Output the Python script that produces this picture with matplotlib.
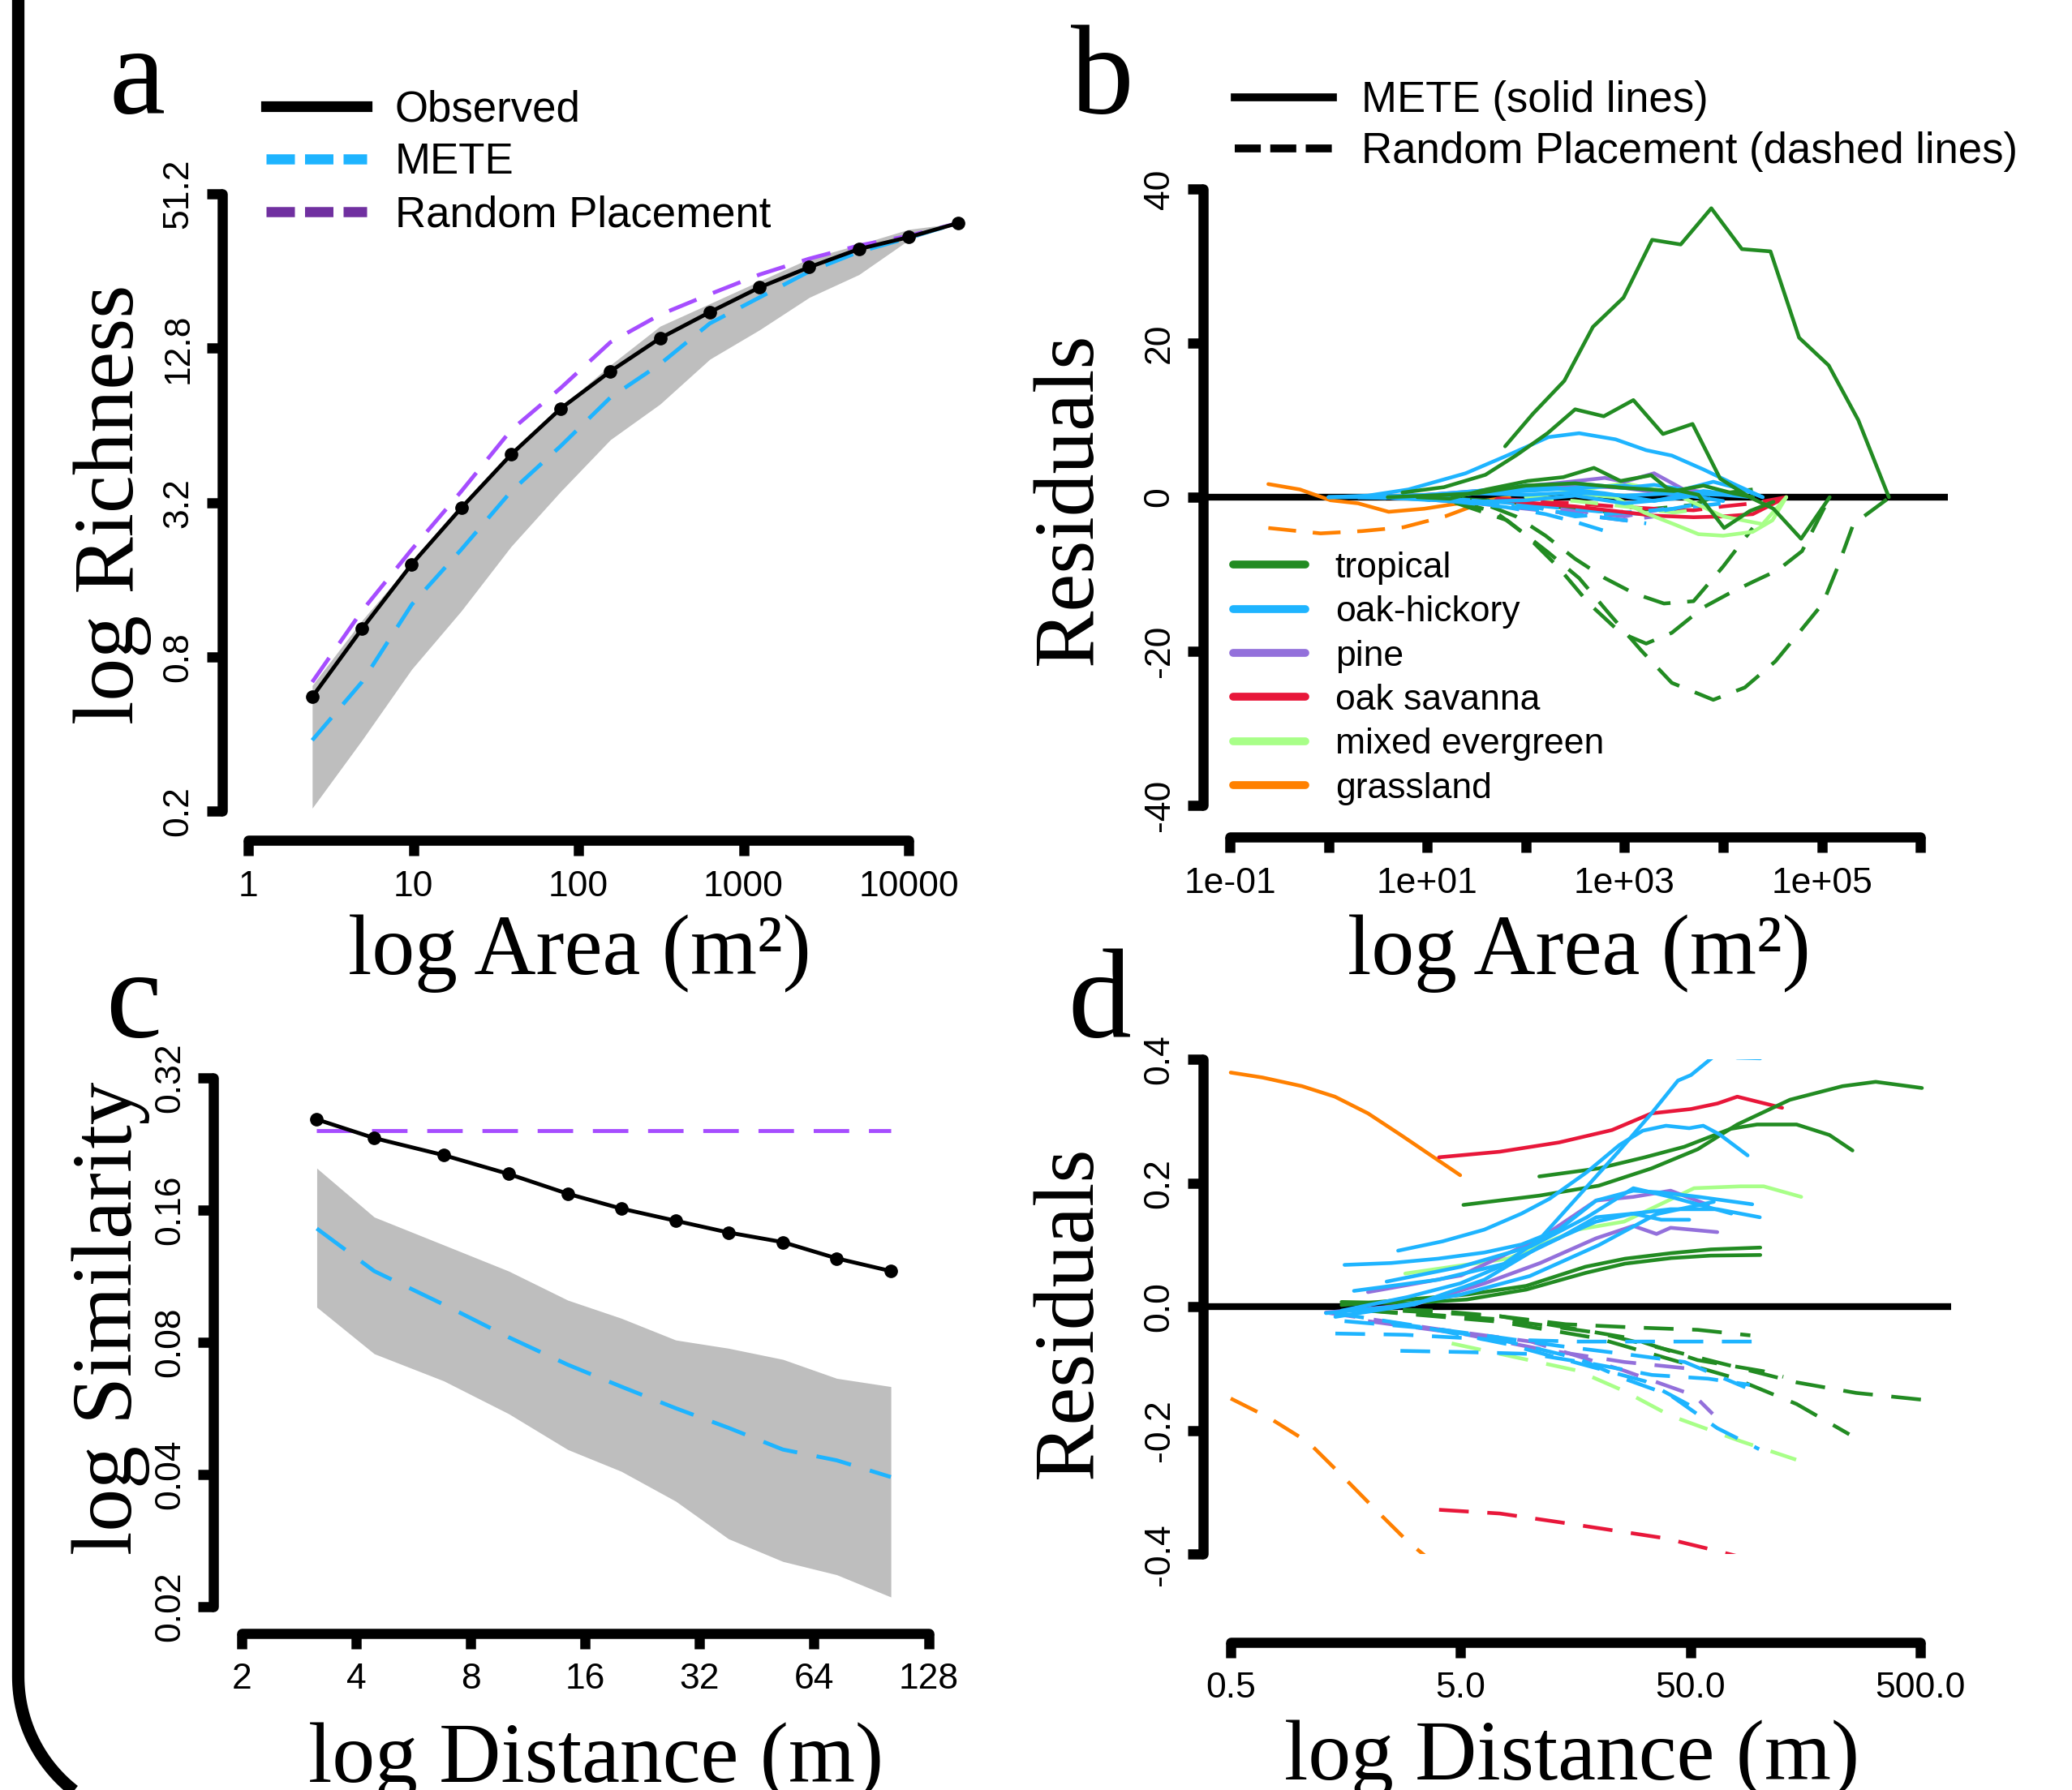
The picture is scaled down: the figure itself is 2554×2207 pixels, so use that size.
import numpy as np
import matplotlib
matplotlib.use('Agg')
import matplotlib.pyplot as plt
from matplotlib.lines import Line2D
from matplotlib.ticker import NullLocator

W, H = 2554, 2207
SANS = 'Liberation Sans'
SERIF = 'Liberation Serif'
plt.rcParams['font.family'] = SANS
plt.rcParams['axes.unicode_minus'] = False

C_METE = '#1EB4FF'
C_RP = '#A64DFF'
C_RP_LEG = '#7030A0'
C_BAND = '#BEBEBE'
C_TROP = '#228B22'
C_OAKH = '#1EB4FF'
C_PINE = '#9370DB'
C_SAV = '#E8173A'
C_MIX = '#A8FF88'
C_GRASS = '#FF8000'

# ---- panel a: species-area ----
a_area = [2.44, 4.88, 9.77, 19.5, 39.1, 78.1, 156, 312, 625, 1250, 2500, 5000, 10000, 20000]
a_obs = [0.559, 1.03, 1.84, 3.05, 4.93, 7.45, 10.4, 14.0, 17.7, 22.1, 26.5, 31.2, 34.7, 39.4]
a_mete = [0.379, 0.639, 1.28, 2.10, 3.54, 5.32, 8.22, 11.1, 16.0, 20.2, 25.5, 30.4, 34.5, 39.4]
a_rp = [0.639, 1.21, 2.10, 3.54, 6.14, 8.96, 13.5, 17.3, 20.8, 24.8, 28.6, 32.2, 35.1, 39.4]
a_band_lo = [0.206, 0.379, 0.717, 1.21, 2.16, 3.54, 5.63, 7.75, 11.6, 15.1, 20.2, 24.8, 33.8, 39.4]
a_band_hi = [0.62, 1.11, 1.87, 3.15, 5.02, 7.53, 11.0, 15.6, 19.1, 23.4, 28.6, 32.5, 37.2, 39.4]

# ---- panel c: distance decay ----
c_dist = [3.15, 4.46, 6.8, 10.07, 14.4, 19.9, 27.7, 38.1, 53.0, 73.4, 101.9]
c_obs = [0.257, 0.233, 0.213, 0.193, 0.174, 0.161, 0.151, 0.142, 0.135, 0.124, 0.116]
c_mete = [0.145, 0.116, 0.0973, 0.082, 0.071, 0.0633, 0.0565, 0.051, 0.0455, 0.043, 0.0394]
c_rp = [0.242, 0.242, 0.242, 0.242, 0.242, 0.242, 0.242, 0.242, 0.242, 0.242, 0.242]
c_band_hi = [0.199, 0.154, 0.133, 0.116, 0.0996, 0.0906, 0.0808, 0.0774, 0.073, 0.0661, 0.0633]
c_band_lo = [0.096, 0.0752, 0.0652, 0.0549, 0.0455, 0.0406, 0.0347, 0.0285, 0.0253, 0.0236, 0.021]

# ---- panel b: SAR residuals, (log10 area, residual) per site ----
b_trop_solid = [
    ([1.79, 2.07, 2.39, 2.68, 2.99, 3.28, 3.57, 3.88, 4.19, 4.48, 4.77, 5.07, 5.37, 5.68],
     [6.6, 10.8, 15.1, 22.1, 25.9, 33.4, 32.8, 37.5, 32.2, 31.9, 20.7, 17.1, 10.0, 0.0]),
    ([0.75, 1.17, 1.59, 1.91, 2.22, 2.50, 2.79, 3.09, 3.39, 3.69, 3.97, 4.27, 4.51, 4.79, 5.08],
     [0.6, 1.3, 2.9, 5.5, 8.3, 11.4, 10.5, 12.6, 8.2, 9.5, 2.4, 0.0, -1.5, -5.4, 0.0]),
    ([0.9, 1.23, 1.6, 2.02, 2.38, 2.69, 2.96, 3.27, 3.43, 3.75, 4.01, 4.27, 4.51],
     [0.0, -0.2, 1.0, 2.1, 2.6, 3.8, 2.1, 2.85, 1.2, 0.3, -4.0, -1.8, -0.6]),
    ([0.6, 1.0, 1.5, 2.0, 2.5, 3.0, 3.5, 3.8, 4.1, 4.3],
     [0.0, 0.2, 0.5, 1.5, 1.8, 1.2, 0.8, 1.5, 0.5, 0.0]),
]
b_trop_dash = [
    ([1.28, 1.81, 2.23, 2.54, 2.85, 3.17, 3.48, 3.90, 4.22, 4.53, 4.80, 5.01, 5.16, 5.32, 5.69],
     [-0.7, -3.0, -7.2, -10.5, -15.2, -19.9, -24.1, -26.3, -24.7, -21.3, -17.1, -13.8, -9.1, -3.5, 0.0]),
    ([1.3, 1.7, 2.0, 2.33, 2.64, 2.96, 3.22, 3.48, 3.8, 4.06, 4.3, 4.55, 4.8, 5.08],
     [-0.5, -2.0, -4.9, -9.1, -13.8, -17.6, -19.0, -17.6, -14.3, -12.5, -11.0, -9.5, -7.0, 0.0]),
    ([1.2, 1.6, 1.9, 2.2, 2.5, 2.8, 3.1, 3.4, 3.7, 4.0, 4.3],
     [-0.3, -1.0, -2.5, -5.0, -8.0, -10.5, -12.5, -13.8, -13.5, -9.0, -4.0]),
    ([0.9, 1.3, 1.7, 2.1, 2.5, 2.9, 3.3, 3.7, 4.0, 4.3],
     [0.0, -0.2, -0.5, -1.0, -1.5, -2.0, -1.5, -1.0, 0.5, 1.0]),
]
b_oakh_solid = [
    ([0.0, 0.4, 0.81, 1.39, 1.81, 2.23, 2.54, 2.91, 3.22, 3.48, 3.80, 4.11, 4.40],
     [0.0, 0.2, 1.0, 3.1, 5.4, 7.8, 8.3, 7.5, 6.1, 5.4, 3.6, 1.7, 0.0]),
    ([0.0, 0.5, 1.0, 1.5, 2.0, 2.5, 3.0, 3.3, 3.6, 3.9, 4.2, 4.4],
     [0.0, 0.1, 0.3, 0.8, 1.5, 1.8, 1.2, 1.6, 1.0, 2.0, 1.0, 0.0]),
    ([0.0, 0.5, 1.0, 1.5, 2.0, 2.5, 3.0, 3.5, 4.0, 4.3],
     [0.0, 0.0, 0.2, 0.5, 0.3, 0.6, 0.2, 0.5, 0.3, 0.0]),
    ([0.3, 0.8, 1.3, 1.8, 2.3, 2.8, 3.3, 3.8, 4.2],
     [0.0, -0.1, 0.2, 1.0, 1.2, 0.5, -0.5, 0.8, 0.2]),
    ([0.5, 1.0, 1.5, 2.0, 2.5, 3.0, 3.5, 3.9],
     [0.0, -0.3, -0.6, -0.4, 0.2, -0.8, -0.2, 0.6]),
    ([1.0, 1.5, 2.0, 2.5, 3.0, 3.5, 4.0],
     [0.0, 0.5, 0.8, 1.2, 1.5, 0.5, -0.5]),
]
b_oakh_dash = [
    ([0.3, 0.8, 1.3, 1.8, 2.2, 2.5, 2.78], [0.0, -0.2, -0.6, -1.3, -2.2, -3.2, -4.3]),
    ([0.5, 1.0, 1.5, 2.0, 2.5, 3.0, 3.22], [0.0, -0.3, -0.8, -1.4, -2.2, -3.0, -3.4]),
    ([0.7, 1.2, 1.7, 2.2, 2.7, 3.2, 3.7], [0.0, -0.2, -0.6, -1.2, -1.8, -2.2, -1.0]),
    ([1.0, 1.5, 2.0, 2.5, 3.0, 3.5, 4.0], [0.0, -0.5, -1.0, -2.5, -2.0, -1.5, -0.8]),
]
b_pine_solid = [
    ([0.3, 0.8, 1.3, 1.8, 2.3, 2.8, 3.0, 3.3, 3.6, 3.9], [0.0, 0.2, 0.5, 1.2, 1.8, 2.5, 2.0, 3.1, 1.0, 0.5]),
    ([0.5, 1.0, 1.5, 2.0, 2.5, 3.0, 3.5], [0.0, 0.3, 0.8, 1.0, 1.5, 1.2, 0.3]),
]
b_pine_dash = [
    ([0.5, 1.0, 1.5, 2.0, 2.5, 3.0, 3.3], [0.0, -0.3, -0.8, -1.5, -2.2, -3.0, -2.5]),
    ([1.0, 1.5, 2.0, 2.5, 3.0, 3.4], [0.0, -0.5, -1.0, -1.8, -2.5, -1.5]),
]
b_sav_solid = [([1.7, 2.1, 2.5, 2.9, 3.3, 3.7, 4.0, 4.3, 4.64], [-0.3, -0.8, -1.2, -1.8, -2.4, -2.6, -2.5, -2.2, 0.0])]
b_sav_dash = [([1.7, 2.1, 2.5, 2.9, 3.3, 3.7, 4.0, 4.3, 4.64], [-0.2, -0.5, -0.8, -1.2, -1.5, -1.7, -1.2, -0.8, 0.0])]
b_mix_solid = [
    ([2.5, 2.9, 3.2, 3.5, 3.75, 4.0, 4.3, 4.5, 4.64], [0.5, 0.0, -2.0, -3.5, -4.8, -5.0, -4.5, -3.0, 0.0]),
    ([2.0, 2.5, 3.0, 3.5, 4.0, 4.4, 4.64], [0.0, 0.8, 1.8, 0.5, -2.5, -3.5, 0.0]),
]
b_mix_dash = [([2.0, 2.5, 3.0, 3.5, 3.8], [0.0, -0.5, -1.2, -2.0, -1.5])]
b_grass_solid = [([-0.61, -0.29, 0.02, 0.30, 0.61, 0.97, 1.27, 1.55, 1.79], [1.7, 1.0, -0.4, -0.8, -1.9, -1.5, -0.9, -0.5, -0.1])]
b_grass_dash = [([-0.61, -0.08, 0.34, 0.76, 1.18, 1.60, 1.85], [-4.0, -4.7, -4.4, -3.9, -2.5, -0.5, 0.0])]

# ---- panel d: distance-decay residuals, (log10 distance, residual) ----
d_grass_solid = [([-0.301, -0.163, 0.009, 0.152, 0.296, 0.439, 0.582, 0.697], [0.379, 0.371, 0.357, 0.340, 0.313, 0.278, 0.242, 0.213])]
d_grass_dash = [([-0.301, -0.135, 0.037, 0.181, 0.324, 0.468, 0.582, 0.683], [-0.148, -0.179, -0.219, -0.272, -0.326, -0.379, -0.414, -0.441])]
d_sav_solid = [([0.605, 0.869, 1.127, 1.357, 1.529, 1.701, 1.816, 1.902, 2.097], [0.242, 0.251, 0.266, 0.286, 0.313, 0.320, 0.329, 0.340, 0.322])]
d_sav_dash = [([0.605, 0.869, 1.127, 1.357, 1.587, 1.787, 2.017, 2.097], [-0.328, -0.334, -0.348, -0.361, -0.374, -0.392, -0.414, -0.423])]
d_trop_solid = [
    ([1.041, 1.299, 1.5, 1.672, 1.873, 1.988, 2.16, 2.303, 2.403], [0.211, 0.224, 0.242, 0.259, 0.288, 0.295, 0.295, 0.278, 0.253]),
    ([0.711, 1.041, 1.299, 1.529, 1.73, 1.902, 2.131, 2.36, 2.504, 2.705], [0.165, 0.180, 0.196, 0.224, 0.255, 0.295, 0.335, 0.357, 0.364, 0.354]),
    ([0.181, 0.468, 0.726, 0.984, 1.242, 1.414, 1.615, 1.787, 2.002], [0.003, 0.012, 0.020, 0.034, 0.065, 0.078, 0.087, 0.093, 0.096]),
    ([0.181, 0.468, 0.726, 0.984, 1.242, 1.414, 1.615, 1.787, 2.002], [0.008, 0.006, 0.012, 0.028, 0.055, 0.070, 0.079, 0.083, 0.084]),
]
d_trop_dash = [
    ([0.238, 0.582, 0.869, 1.156, 1.443, 1.73, 1.959], [-0.002, -0.006, -0.015, -0.028, -0.033, -0.037, -0.046]),
    ([0.296, 0.869, 1.299, 1.586, 1.873, 2.16, 2.418, 2.705], [-0.006, -0.020, -0.042, -0.068, -0.095, -0.122, -0.139, -0.150]),
    ([0.296, 0.869, 1.299, 1.586, 1.873, 2.16, 2.389], [-0.006, -0.024, -0.051, -0.082, -0.113, -0.157, -0.206]),
    ([0.238, 0.869, 1.443, 1.73, 2.016, 2.102], [-0.002, -0.015, -0.051, -0.086, -0.104, -0.113]),
]
d_oakh_solid = [
    ([0.181, 0.468, 0.697, 0.869, 1.041, 1.213, 1.385, 1.529, 1.644, 1.701, 1.816, 1.902, 2.002],
     [-0.006, 0.016, 0.038, 0.065, 0.109, 0.180, 0.251, 0.313, 0.366, 0.375, 0.410, 0.403, 0.402]),
    ([0.427, 0.620, 0.802, 0.964, 1.086, 1.248, 1.39, 1.491, 1.592, 1.693, 1.754, 1.825, 1.947],
     [0.091, 0.106, 0.125, 0.151, 0.175, 0.218, 0.262, 0.285, 0.293, 0.289, 0.293, 0.279, 0.245]),
    ([0.194, 0.397, 0.6, 0.802, 0.964, 1.126, 1.288, 1.45, 1.572, 1.734, 1.967],
     [0.068, 0.071, 0.078, 0.088, 0.101, 0.125, 0.172, 0.188, 0.185, 0.178, 0.166]),
    ([0.235, 0.6, 0.903, 1.126, 1.288, 1.45, 1.612, 1.815, 2.0],
     [0.026, 0.044, 0.071, 0.111, 0.145, 0.151, 0.158, 0.158, 0.145]),
    ([0.154, 0.498, 0.802, 1.045, 1.288, 1.45, 1.572, 1.693],
     [-0.016, 0.004, 0.044, 0.098, 0.138, 0.151, 0.141, 0.141]),
    ([0.377, 0.701, 1.005, 1.248, 1.45, 1.612, 1.876],
     [0.041, 0.065, 0.098, 0.145, 0.192, 0.178, 0.151]),
    ([0.113, 0.4, 0.7, 1.0, 1.3, 1.55, 1.8],
     [-0.010, 0.0, 0.02, 0.05, 0.10, 0.15, 0.17]),
]
d_oakh_dash = [
    ([0.154, 0.457, 0.802, 1.207, 1.612, 2.017], [-0.043, -0.045, -0.052, -0.056, -0.056, -0.056]),
    ([0.437, 0.721, 1.005, 1.288, 1.531, 1.775, 1.957], [-0.071, -0.073, -0.076, -0.093, -0.110, -0.116, -0.126]),
    ([0.194, 0.6, 0.903, 1.207, 1.41, 1.612, 1.815, 1.997], [-0.023, -0.036, -0.056, -0.083, -0.116, -0.143, -0.196, -0.230]),
    ([0.397, 0.802, 1.126, 1.41, 1.673, 1.937], [-0.026, -0.046, -0.063, -0.076, -0.089, -0.130]),
    ([0.15, 0.5, 0.9, 1.2, 1.5, 1.75], [-0.01, -0.03, -0.06, -0.09, -0.12, -0.17]),
]
d_pine_solid = [
    ([0.113, 0.498, 0.802, 1.045, 1.288, 1.45, 1.551, 1.612, 1.815], [-0.009, 0.004, 0.038, 0.071, 0.111, 0.131, 0.118, 0.128, 0.121]),
    ([0.296, 0.701, 1.045, 1.288, 1.45, 1.612, 1.775], [0.024, 0.051, 0.111, 0.172, 0.178, 0.188, 0.165]),
]
d_pine_dash = [
    ([0.113, 0.6, 1.005, 1.41, 1.714, 1.795], [-0.009, -0.036, -0.056, -0.103, -0.143, -0.173]),
    ([0.296, 0.701, 1.045, 1.41, 1.673], [-0.023, -0.043, -0.068, -0.089, -0.099]),
]
d_mix_solid = [([0.458, 0.903, 1.207, 1.41, 1.714, 1.916, 2.017, 2.18], [0.054, 0.078, 0.125, 0.138, 0.192, 0.195, 0.195, 0.178])]
d_mix_dash = [([0.66, 1.207, 1.41, 1.612, 1.916, 2.158], [-0.059, -0.103, -0.136, -0.176, -0.217, -0.247])]

hab_names = ['tropical', 'oak-hickory', 'pine', 'oak savanna', 'mixed evergreen', 'grassland']
hab_colors = [C_TROP, C_OAKH, C_PINE, C_SAV, C_MIX, C_GRASS]


def rect(x0, x1, yt, yb):
    return [x0 / W, 1 - yb / H, (x1 - x0) / W, (yb - yt) / H]


def fx(px):
    return px / W


def fy(py):
    return 1 - py / H


def style(ax, left_off, bottom_off, xb, yb):
    for s in ['top', 'right']:
        ax.spines[s].set_visible(False)
    ax.spines['left'].set_position(('outward', left_off))
    ax.spines['bottom'].set_position(('outward', bottom_off))
    ax.spines['left'].set_bounds(*yb)
    ax.spines['bottom'].set_bounds(*xb)
    for s in ['left', 'bottom']:
        ax.spines[s].set_linewidth(9)
        ax.spines[s].set_capstyle('round')
    ax.tick_params(width=9, length=14, labelsize=32, direction='out')
    ax.tick_params(axis='x', pad=12)
    ax.tick_params(axis='y', pad=10, labelrotation=90)
    for lab in ax.get_yticklabels():
        lab.set_va('center')
    ax.xaxis.set_minor_locator(NullLocator())
    ax.yaxis.set_minor_locator(NullLocator())
    ax.patch.set_visible(False)


def draw_sites(ax, groups, color, dashed, dash):
    for xs, ys in groups:
        xv = [10 ** v for v in xs]
        if dashed:
            ax.plot(xv, ys, color=color, lw=3.3, dashes=dash, zorder=2)
        else:
            ax.plot(xv, ys, color=color, lw=3.3, solid_capstyle='round', zorder=2)


fig = plt.figure(figsize=(W / 100, H / 100), dpi=100)

# ---------------- panel a ----------------
ax_a = fig.add_axes(rect(306, 1201.4, 239, 1000.5))
ax_a.set_xscale('log')
ax_a.set_yscale('log')
ax_a.fill_between(a_area, a_band_lo, a_band_hi, color=C_BAND, lw=0, zorder=1)
ax_a.plot(a_area, a_rp, color=C_RP, lw=3.5, dashes=(7.5, 4.5), zorder=2)
ax_a.plot(a_area, a_mete, color=C_METE, lw=3.5, dashes=(7.5, 4.5), zorder=3)
ax_a.plot(a_area, a_obs, color='k', lw=3.5, marker='o', ms=11, zorder=4, clip_on=False)
ax_a.set_xlim(1, 10 ** 4.4)
ax_a.set_ylim(0.2, 51.2)
ax_a.set_xticks([1, 10, 100, 1000, 10000], labels=['1', '10', '100', '1000', '10000'])
ax_a.set_yticks([0.2, 0.8, 3.2, 12.8, 51.2], labels=['0.2', '0.8', '3.2', '12.8', '51.2'])
style(ax_a, 23.4, 25.9, (1, 10000), (0.2, 51.2))

hdl_a = [Line2D([], [], color='k', lw=9.5),
         Line2D([], [], color=C_METE, lw=9, dashes=(2.8, 1.0)),
         Line2D([], [], color=C_RP_LEG, lw=9, dashes=(2.8, 1.0))]
ax_a.legend(hdl_a, ['Observed', 'METE', 'Random Placement'], loc='upper left',
            bbox_to_anchor=(fx(328), fy(110)), bbox_transform=fig.transFigure,
            frameon=False, borderpad=0, borderaxespad=0, handlelength=2.35,
            handletextpad=0.66, labelspacing=0.29, prop={'family': SANS, 'size': 38})

# ---------------- panel b ----------------
ax_b = fig.add_axes(rect(1483, 2401, 233, 993))
ax_b.set_xscale('log')
ax_b.axhline(0, color='k', lw=6, zorder=1)
db = (7.5, 4.5)
draw_sites(ax_b, b_grass_dash, C_GRASS, True, db)
draw_sites(ax_b, b_grass_solid, C_GRASS, False, db)
draw_sites(ax_b, b_trop_dash, C_TROP, True, db)
draw_sites(ax_b, b_sav_dash, C_SAV, True, db)
draw_sites(ax_b, b_mix_dash, C_MIX, True, db)
draw_sites(ax_b, b_pine_dash, C_PINE, True, db)
draw_sites(ax_b, b_oakh_dash, C_OAKH, True, db)
draw_sites(ax_b, b_sav_solid, C_SAV, False, db)
draw_sites(ax_b, b_mix_solid, C_MIX, False, db)
draw_sites(ax_b, b_pine_solid, C_PINE, False, db)
draw_sites(ax_b, b_oakh_solid, C_OAKH, False, db)
draw_sites(ax_b, b_trop_solid, C_TROP, False, db)
ax_b.set_xlim(10 ** -1.271, 10 ** 6.278)
ax_b.set_ylim(-40, 40)
ax_b.set_xticks([1e-1, 1e0, 1e1, 1e2, 1e3, 1e4, 1e5, 1e6],
                labels=['1e-01', '', '1e+01', '', '1e+03', '', '1e+05', ''])
ax_b.set_yticks([-40, -20, 0, 20, 40], labels=['-40', '-20', '0', '20', '40'])
style(ax_b, 0, 28.4, (1e-1, 1e6), (-40, 40))

hdl_style = [Line2D([], [], color='k', lw=7),
             Line2D([], [], color='k', lw=7, dashes=(3.3, 1.2))]
leg_style = ax_b.legend(hdl_style, ['METE (solid lines)', 'Random Placement (dashed lines)'],
                        loc='upper left', bbox_to_anchor=(fx(1522), fy(99)),
                        bbox_transform=fig.transFigure, frameon=False, borderpad=0,
                        borderaxespad=0, handlelength=2.29, handletextpad=0.66,
                        labelspacing=0.25, prop={'family': SANS, 'size': 38})
ax_b.add_artist(leg_style)
hdl_hab = [Line2D([], [], color=c, lw=7, solid_capstyle='round') for c in hab_colors]
ax_b.legend(hdl_hab, hab_names, loc='upper left', bbox_to_anchor=(fx(1520), fy(680)),
            bbox_transform=fig.transFigure, frameon=False, borderpad=0, borderaxespad=0,
            handlelength=2.0, handletextpad=0.83, labelspacing=0.3,
            prop={'family': SANS, 'size': 32})

# ---------------- panel c ----------------
ax_c = fig.add_axes(rect(298, 1144.5, 1328.6, 1980.5))
ax_c.set_xscale('log')
ax_c.set_yscale('log')
ax_c.fill_between(c_dist, c_band_lo, c_band_hi, color=C_BAND, lw=0, zorder=1)
ax_c.plot(c_dist, c_rp, color=C_RP, lw=3.5, dashes=(9, 5), zorder=2)
ax_c.plot(c_dist, c_mete, color=C_METE, lw=3.5, dashes=(9, 5), zorder=3)
ax_c.plot(c_dist, c_obs, color='k', lw=3.5, marker='o', ms=11, zorder=4, clip_on=False)
ax_c.set_xlim(2, 128)
ax_c.set_ylim(0.02, 0.32)
ax_c.set_xticks([2, 4, 8, 16, 32, 64, 128], labels=['2', '4', '8', '16', '32', '64', '128'])
ax_c.set_yticks([0.02, 0.04, 0.08, 0.16, 0.32], labels=['0.02', '0.04', '0.08', '0.16', '0.32'])
style(ax_c, 25, 24, (2, 128), (0.02, 0.32))

# ---------------- panel d ----------------
ax_d = fig.add_axes(rect(1483, 2405, 1306.4, 1916.4))
ax_d.set_xscale('log')
ax_d.axhline(0, color='k', lw=6, zorder=1)
dd = (8, 5)
draw_sites(ax_d, d_grass_solid, C_GRASS, False, dd)
draw_sites(ax_d, d_grass_dash, C_GRASS, True, dd)
draw_sites(ax_d, d_sav_solid, C_SAV, False, dd)
draw_sites(ax_d, d_sav_dash, C_SAV, True, dd)
draw_sites(ax_d, d_trop_solid, C_TROP, False, dd)
draw_sites(ax_d, d_trop_dash, C_TROP, True, dd)
draw_sites(ax_d, d_mix_solid, C_MIX, False, dd)
draw_sites(ax_d, d_mix_dash, C_MIX, True, dd)
draw_sites(ax_d, d_pine_solid, C_PINE, False, dd)
draw_sites(ax_d, d_pine_dash, C_PINE, True, dd)
draw_sites(ax_d, d_oakh_solid, C_OAKH, False, dd)
draw_sites(ax_d, d_oakh_dash, C_OAKH, True, dd)
ax_d.set_xlim(10 ** -0.421, 10 ** 2.832)
ax_d.set_ylim(-0.4, 0.4)
ax_d.set_xticks([0.5, 5, 50, 500], labels=['0.5', '5.0', '50.0', '500.0'])
ax_d.set_yticks([-0.4, -0.2, 0, 0.2, 0.4], labels=['-0.4', '-0.2', '0.0', '0.2', '0.4'])
style(ax_d, 0, 78.2, (0.5, 500), (-0.4, 0.4))

# ---------------- labels ----------------
ser = {'family': SERIF, 'size': 76}
fig.text(fx(139), fy(622), 'log Richness', rotation=90, ha='center', va='center', **ser)
fig.text(fx(714), fy(1201), 'log Area (m\u00b2)', ha='center', va='baseline', **ser)
fig.text(fx(1320), fy(615), 'Residuals', rotation=90, ha='center', va='center', **ser)
fig.text(fx(1946), fy(1201), 'log Area (m\u00b2)', ha='center', va='baseline', **ser)
fig.text(fx(137), fy(1625), 'log Similarity', rotation=90, ha='center', va='center', **ser)
fig.text(fx(735), fy(2197), 'log Distance (m)', ha='center', va='baseline', **ser)
fig.text(fx(1320), fy(1618), 'Residuals', rotation=90, ha='center', va='center', **ser)
fig.text(fx(1938), fy(2194), 'log Distance (m)', ha='center', va='baseline', **ser)

let = {'family': SERIF, 'size': 112}
fig.text(fx(134), fy(139), 'a', ha='left', va='baseline', **let)
fig.text(fx(1320), fy(139), 'b', ha='left', va='baseline', **let)
fig.text(fx(130), fy(1278), 'c', ha='left', va='baseline', **let)
fig.text(fx(1316), fy(1278), 'd', ha='left', va='baseline', **let)

# ---------------- rounded border on the left ----------------
ov = fig.add_axes([0, 0, 1, 1], zorder=-1)
ov.set_xlim(0, W)
ov.set_ylim(H, 0)
ov.axis('off')
t = np.linspace(np.pi, np.pi * 1.36, 40)
bx = np.concatenate([[22.5], 201.5 + 179 * np.cos(t)])
by = np.concatenate([[-20], 2067 - 179 * np.sin(t)])
ov.plot(bx, by, color='k', lw=11, solid_capstyle='butt')

fig.savefig('out.png', dpi=100)
